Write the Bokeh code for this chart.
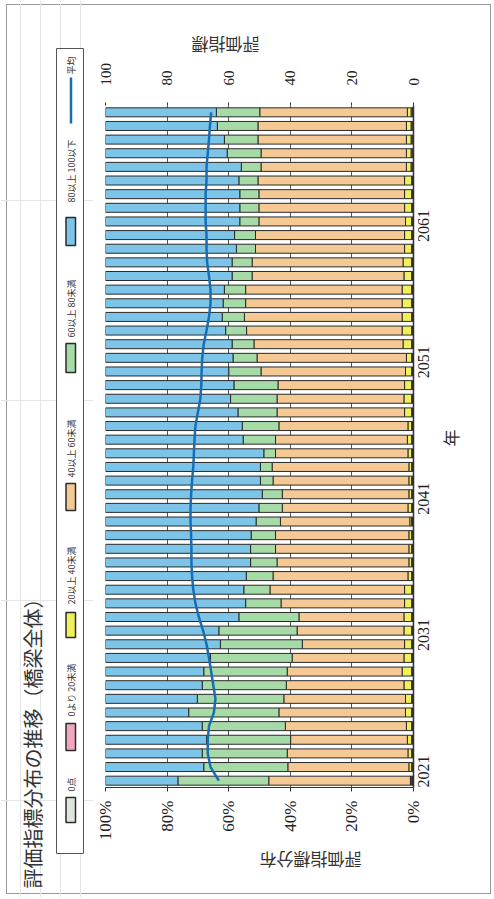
import math
from bokeh.plotting import figure
from bokeh.layouts import row
from bokeh.models import (Range1d, LinearAxis, FixedTicker, ColumnDataSource, Grid,
                          Plot)
from bokeh.core.properties import value
from bokeh.embed import file_html
from bokeh.resources import INLINE

# ---------------- data ----------------
years = list(range(2021, 2071))
year_ticks = [2021, 2031, 2041, 2051, 2061]
year_labels = ["2021", "2031", "2041", "2051", "2061"]
pct_ticks = [0, 20, 40, 60, 80, 100]
pct_labels = ["0%", "20%", "40%", "60%", "80%", "100%"]
score_ticks = [0, 20, 40, 60, 80, 100]
score_labels = ["0", "20", "40", "60", "80", "100"]

series_names = ["0点", "0より 20未満", "20以上 40未満", "40以上 60未満",
                "60以上 80未満", "80以上 100以下"]
avg_name = "平均"

zero_pts = [0.3, 0.3, 0.3, 0.3, 0.3, 0.3, 0.3, 0.3, 0.3, 0.3,
            0.3, 0.3, 0.3, 0.3, 0.3, 0.3, 0.3, 0.3, 0.3, 0.3,
            0.3, 0.3, 0.3, 0.3, 0.3, 0.3, 0.3, 0.3, 0.3, 0.3,
            0.3, 0.3, 0.3, 0.3, 0.3, 0.3, 0.3, 0.3, 0.3, 0.3,
            0.3, 0.3, 0.3, 0.3, 0.3, 0.4, 0.4, 0.4, 0.4, 0.4]
lt20 = [0.3, 0.3, 0.3, 0.3, 0.3, 0.3, 0.3, 0.3, 0.3, 0.3,
        0.3, 0.3, 0.3, 0.3, 0.3, 0.3, 0.3, 0.3, 0.3, 0.3,
        0.3, 0.3, 0.3, 0.3, 0.3, 0.3, 0.3, 0.3, 0.3, 0.3,
        0.3, 0.3, 0.3, 0.3, 0.3, 0.3, 0.3, 0.3, 0.3, 0.3,
        0.3, 0.3, 0.3, 0.3, 0.3, 0.4, 0.4, 0.4, 0.4, 0.4]
s20_40 = [0.4, 0.9, 1.2, 1.4, 1.7, 2.0, 2.0, 2.5, 3.1, 2.5,
          2.3, 2.5, 2.5, 2.3, 2.3, 1.2, 0.9, 0.9, 0.9, 0.6,
          1.2, 0.9, 0.9, 0.9, 1.2, 1.4, 1.2, 2.3, 2.5, 2.3,
          2.0, 1.7, 2.8, 3.1, 3.1, 3.1, 3.1, 2.5, 2.8, 2.3,
          2.3, 2.0, 2.3, 2.3, 2.3, 1.5, 1.5, 1.5, 1.5, 1.2]
s40_60 = [46.0, 39.3, 39.2, 37.9, 39.3, 41.1, 39.5, 38.2, 37.3, 36.3,
          33.2, 34.7, 34.1, 40.1, 43.7, 43.8, 42.8, 43.3, 43.3, 42.0,
          40.8, 41.1, 44.1, 44.4, 43.0, 42.8, 41.9, 41.4, 41.2, 41.1,
          46.9, 48.5, 48.4, 50.5, 51.2, 50.8, 50.8, 49.3, 49.0, 48.4,
          48.4, 47.6, 47.3, 47.3, 47.6, 47.2, 47.2, 48.2, 48.2, 47.9]
s60_80 = [29.5, 27.3, 27.6, 27.3, 27.0, 29.3, 28.1, 27.3, 27.1, 26.5,
          26.6, 25.4, 19.5, 11.5, 8.5, 8.7, 8.6, 8.1, 7.9, 7.9,
          7.6, 6.5, 4.1, 3.8, 3.8, 10.5, 11.9, 12.7, 15.1, 14.3,
          10.5, 7.8, 7.1, 6.8, 7.2, 7.3, 6.9, 6.5, 6.5, 6.2,
          6.8, 6.2, 6.2, 6.2, 6.2, 6.4, 11.0, 10.9, 13.2, 14.1]
s80_100 = [23.5, 31.9, 31.4, 32.8, 31.4, 27.0, 29.8, 31.4, 31.9, 34.1,
           37.3, 36.8, 43.3, 45.5, 44.9, 45.7, 47.1, 47.1, 47.3, 48.9,
           49.8, 50.9, 50.3, 50.3, 51.4, 44.7, 44.4, 43.0, 40.6, 41.7,
           40.0, 41.4, 41.1, 39.0, 37.9, 38.2, 38.6, 41.1, 41.1, 42.5,
           41.9, 43.6, 43.6, 43.6, 43.3, 44.1, 39.5, 38.6, 36.3, 36.0]
avg_score = [63.2, 65.9, 66.8, 66.8, 66.4, 64.8, 64.3, 65.0, 65.7, 66.4,
             67.2, 68.3, 69.7, 70.8, 71.5, 71.9, 72.1, 72.1, 72.2, 72.4,
             72.4, 72.2, 71.9, 71.5, 71.3, 71.1, 70.8, 70.0, 69.2, 68.9,
             68.8, 68.6, 68.1, 67.2, 66.4, 65.9, 65.9, 66.4, 67.0, 67.2,
             67.2, 67.5, 67.5, 67.5, 67.2, 67.2, 66.8, 66.4, 66.1, 65.7]

title_text = "評価指標分布の推移（橋梁全体）"
pct_axis_title = "評価指標分布"
score_axis_title = "評価指標"
year_axis_title = "年"

# ---------------- styles ----------------
colors = ["#dde5dd", "#f0a6c0", "#f0f05a", "#f5c993", "#a6dba8", "#7cc5e9"]
avg_color = "#1b6db3"
edge = "#2a2a2a"
JP = "Noto Sans CJK JP"
NUM = "Liberation Serif"

fa = {"frame_align": False} if "frame_align" in Plot.properties() else {}

W, H = 492, 897          # whole drawing (page pixels, page has no margin)
SIDE_W = 93              # left strip with title and legend
FL, FR, FT, FB = 105, 413, 105, 787   # plotting frame in page pixels

# ---------------- main chart ----------------
p = figure(width=W - SIDE_W, height=H, output_backend="svg", toolbar_location=None,
           x_range=Range1d(100, 0), y_range=Range1d(2020.5, 2070.5),
           x_axis_location=None, y_axis_location=None,
           min_border_left=FL - SIDE_W, min_border_right=W - FR,
           min_border_top=FT, min_border_bottom=H - FB, outline_line_color=None,
           background_fill_color="white", border_fill_alpha=0, **fa)
p.extra_x_ranges = {"score": Range1d(100, 0)}

p.add_layout(Grid(dimension=0, ticker=FixedTicker(ticks=[20, 40, 60, 80]),
                  grid_line_color="#555555", grid_line_width=1))

src = ColumnDataSource(dict(year=years, zero=zero_pts, lt20=lt20, a=s20_40,
                            b=s40_60, c=s60_80, d=s80_100))
p.hbar_stack(["zero", "lt20", "a", "b", "c", "d"], y="year", height=0.66,
             fill_color=colors, line_color=edge, line_width=1, source=src)
p.line(x=avg_score, y=years, x_range_name="score", line_color=avg_color,
       line_width=2.5)


def style_axis(ax, standoff, tick_out, size, title_standoff):
    ax.major_label_text_font = NUM
    ax.major_label_text_font_size = size
    ax.major_label_text_color = "#222222"
    ax.major_label_orientation = math.pi / 2
    ax.major_label_standoff = standoff
    ax.major_tick_out = tick_out
    ax.major_tick_in = 0
    ax.minor_tick_out = 0
    ax.minor_tick_in = 0
    ax.axis_line_color = "#333333"
    ax.major_tick_line_color = "#333333"
    ax.axis_label_text_font = JP
    ax.axis_label_text_font_size = "17px"
    ax.axis_label_text_font_style = "normal"
    ax.axis_label_text_color = "#333333"
    ax.axis_label_standoff = title_standoff


ax_b = LinearAxis(ticker=FixedTicker(ticks=pct_ticks),
                  major_label_overrides=dict(zip(pct_ticks, pct_labels)),
                  axis_label=pct_axis_title)
style_axis(ax_b, 9, 4, "17px", 17)
ax_b.axis_label_orientation = math.pi

ax_t = LinearAxis(x_range_name="score", ticker=FixedTicker(ticks=score_ticks),
                  major_label_overrides=dict(zip(score_ticks, score_labels)),
                  axis_label=score_axis_title)
style_axis(ax_t, 17, 3, "15px", 15)
ax_t.axis_line_color = None
ax_t.axis_label_orientation = math.pi

# year labels start at the lower edge of their category band
year_pos = [y - 0.5 for y in year_ticks]
ax_r = LinearAxis(ticker=FixedTicker(ticks=year_pos),
                  major_label_overrides=dict(zip(year_pos, year_labels)),
                  axis_label=year_axis_title)
style_axis(ax_r, 10, 0, "16px", 13)
ax_r.axis_line_width = 1.5
ax_r.axis_label_orientation = math.pi / 2

p.add_layout(ax_b, "below")
p.add_layout(ax_t, "above")
p.add_layout(ax_r, "right")

# ---------------- side strip: title + legend (page-pixel coordinates) ----------------
side = figure(width=SIDE_W, height=H, output_backend="svg", toolbar_location=None,
              x_range=Range1d(0, SIDE_W), y_range=Range1d(H, 0),
              x_axis_location=None, y_axis_location=None, min_border=0,
              outline_line_color=None, background_fill_alpha=0,
              border_fill_alpha=0, **fa)

# legend frame
side.quad(left=[56], right=[83], top=[48], bottom=[853], fill_color="white",
          line_color="#555555", line_width=1)

sw_top = [797, 723, 612, 483, 343, 217]
sw_bot = [822, 750, 637, 510, 372, 245]
txt_y = [791, 716, 604, 477, 337, 202]
side.quad(left=[65.5] * 6, right=[75] * 6, top=sw_top, bottom=sw_bot,
          fill_color=colors, line_color=edge, line_width=1.5)
side.text(x=[70.5] * 6, y=txt_y, text=series_names, angle=math.pi / 2,
          text_align="left", text_baseline="middle", text_font=value(JP),
          text_font_size="9px", text_color="#333333")
side.line(x=[70.5, 70.5], y=[77, 123], line_color=avg_color, line_width=2.5)
side.text(x=[70.5], y=[74], text=[avg_name], angle=math.pi / 2,
          text_align="left", text_baseline="middle", text_font=value(JP),
          text_font_size="9px", text_color="#333333")

# chart title
side.text(x=[32], y=[888], text=[title_text], angle=math.pi / 2,
          text_align="left", text_baseline="middle", text_font=value(JP),
          text_font_size="20px", text_color="#333333")

# outer frame of the whole chart, painted as the row's background
g = "linear-gradient(#9a9a9a,#9a9a9a)"
frame_bg = ", ".join([
    f"{g} 6px 4px / 485px 1px no-repeat",
    f"{g} 6px 893px / 485px 1px no-repeat",
    f"{g} 6px 4px / 1px 890px no-repeat",
    f"{g} 490px 4px / 1px 890px no-repeat",
])
layout = row(side, p, styles={"background": frame_bg})

open("out.html", "w").write(file_html(layout, INLINE))
